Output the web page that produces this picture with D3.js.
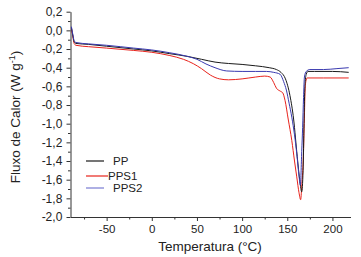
<!DOCTYPE html>
<html>
<head>
<meta charset="utf-8">
<script src="https://cdn.jsdelivr.net/npm/d3@7"></script>
<style>
  body { margin: 0; background: #fff; }
  svg text { font-family: "Liberation Sans", Arial, sans-serif; fill: #222; }
</style>
</head>
<body>
<div id="chart"></div>
<script>
// DSC curves, [temperature °C, heat flux W/g]
const ppData = [
  [-89, 0.03], [-87.5, -0.05], [-86, -0.12], [-84, -0.14], [-70, -0.15], [-50, -0.17],
  [-20, -0.20], [0, -0.22], [20, -0.25], [40, -0.28], [55, -0.31], [70, -0.34],
  [85, -0.355], [100, -0.365], [115, -0.38], [130, -0.40], [138, -0.42], [143, -0.45],
  [148, -0.52], [153, -0.70], [157, -0.95], [161, -1.35], [164, -1.62], [166, -1.73],
  [167.5, -1.50], [168.5, -1.00], [169.5, -0.60], [171, -0.47], [173, -0.44],
  [180, -0.44], [200, -0.44], [218, -0.45]
];
const pps1Data = [
  [-89, 0.02], [-87.5, -0.06], [-86, -0.14], [-84, -0.16], [-70, -0.175], [-50, -0.19],
  [-20, -0.215], [0, -0.235], [20, -0.27], [35, -0.31], [46, -0.357], [55, -0.41],
  [65, -0.48], [75, -0.52], [85, -0.53], [100, -0.52], [115, -0.50], [125, -0.49],
  [131, -0.50], [135, -0.56], [138, -0.62], [142, -0.65], [145, -0.67], [147.5, -0.75],
  [151, -0.95], [155, -1.18], [158, -1.40], [160.5, -1.57], [163, -1.74], [164.8, -1.815],
  [166.3, -1.62], [167.7, -1.39], [168.8, -1.00], [169.6, -0.68], [170.5, -0.55],
  [172, -0.51], [190, -0.51], [218, -0.51]
];
const pps2Data = [
  [-89, 0.04], [-87.5, -0.04], [-86, -0.11], [-84, -0.13], [-70, -0.145], [-50, -0.16],
  [-20, -0.19], [0, -0.21], [20, -0.24], [40, -0.28], [50, -0.31], [60, -0.36],
  [70, -0.40], [83, -0.435], [100, -0.44], [115, -0.44], [127, -0.44], [135, -0.45],
  [142, -0.47], [146, -0.55], [149, -0.64], [152, -0.78], [155, -0.93], [158, -1.12],
  [160.5, -1.32], [163, -1.56], [164.5, -1.66], [166, -1.30], [167, -1.04], [168, -0.72],
  [169, -0.50], [171, -0.44], [175, -0.42], [190, -0.42], [205, -0.41], [218, -0.40]
];

const seriesNames = ["PP", "PPS1", "PPS2"];
const seriesColors = ["#1a1a1a", "#e8231c", "#3a3ab0"];
const legendColors = ["#1a1a1a", "#e8231c", "#aeb0e4"];

const xTicks = [-50, 0, 50, 100, 150, 200];
const xMinor = [-75, -25, 25, 75, 125, 175];
const yTicks = d3.range(-2.0, 0.21, 0.2);
const yMinor = d3.range(-1.9, 0.2, 0.2);

const W = 361, H = 257;
const svg = d3.select("#chart").append("svg").attr("width", W).attr("height", H);

const x = d3.scaleLinear().domain([-90, 220]).range([70.5, 350.5]);
const y = d3.scaleLinear().domain([-2.0, 0.2]).range([217, 11.7]);

const fmt = v => d3.format(".1f")(v).replace("−", "-").replace(".", ",");

// x axis
const gx = svg.append("g").attr("transform", `translate(0,${y(-2.0)})`);
gx.call(d3.axisBottom(x).tickValues(xTicks).tickSize(4).tickSizeOuter(0).tickFormat(d => String(d)));
gx.append("g").call(d3.axisBottom(x).tickValues(xMinor).tickSize(2.5).tickSizeOuter(0).tickFormat(""))
  .select(".domain").remove();
gx.selectAll("text").attr("font-size", 11.5).attr("y", 8).style("fill", "#222");

// y axis
const gy = svg.append("g").attr("transform", `translate(${x(-90)},0)`);
gy.call(d3.axisLeft(y).tickValues(yTicks).tickSize(4).tickSizeOuter(0).tickFormat(fmt));
gy.append("g").call(d3.axisLeft(y).tickValues(yMinor).tickSize(2.5).tickSizeOuter(0).tickFormat(""))
  .select(".domain").remove();
gy.selectAll("text").attr("font-size", 12).attr("dx", "-0.1em").style("fill", "#222");

svg.selectAll(".domain, .tick line").attr("stroke", "#333");

// axis titles
svg.append("text").attr("x", 210).attr("y", 251).attr("text-anchor", "middle")
  .attr("font-size", 13.5).text("Temperatura (°C)");
const yt = svg.append("text").attr("transform", "translate(20,117) rotate(-90)")
  .attr("text-anchor", "middle").attr("font-size", 13.5);
yt.append("tspan").text("Fluxo de Calor (W g");
yt.append("tspan").attr("dy", -5).attr("font-size", 9).text("-1");
yt.append("tspan").attr("dy", 5).text(")");

// curves
const line = d3.line().x(d => x(d[0])).y(d => y(d[1])).curve(d3.curveMonotoneX);
[pps1Data, ppData, pps2Data].forEach((data, i) => {
  const idx = [1, 0, 2][i];
  svg.append("path").datum(data).attr("d", line)
    .attr("fill", "none").attr("stroke", seriesColors[idx]).attr("stroke-width", 1);
});

// legend
const legendY = [161, 176, 188];
const legendLineEnd = [104, 108, 104];
const legendTextX = [113, 108, 113];
seriesNames.forEach((name, i) => {
  svg.append("line").attr("x1", 86).attr("x2", legendLineEnd[i])
    .attr("y1", legendY[i]).attr("y2", legendY[i])
    .attr("stroke", legendColors[i]).attr("stroke-width", i === 2 ? 2 : 1.2);
  svg.append("text").attr("x", legendTextX[i]).attr("y", legendY[i] + 4)
    .attr("font-size", 11.5).text(name);
});
</script>
</body>
</html>
